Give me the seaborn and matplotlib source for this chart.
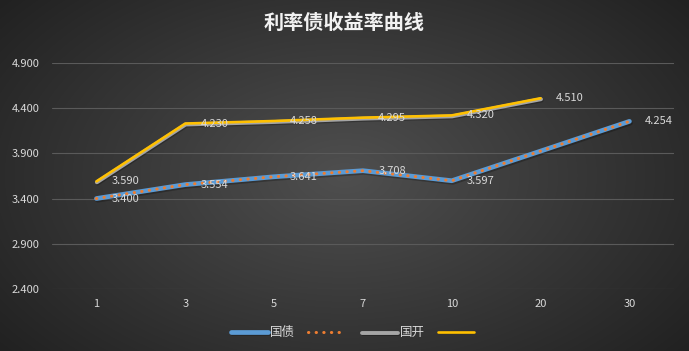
import numpy as np
import pandas as pd
import matplotlib
matplotlib.use("Agg")
import matplotlib.pyplot as plt
import matplotlib.patheffects as pe
import seaborn as sns

tenors = ["1", "3", "5", "7", "10", "20", "30"]
guozhai = [3.400, 3.554, 3.641, 3.708, 3.597, 3.925, 4.254]
guokai = [3.590, 4.230, 4.258, 4.295, 4.320, 4.510, np.nan]
guozhai_labels = ["3.400", "3.554", "3.641", "3.708", "3.597", "", "4.254"]
guokai_labels = ["3.590", "4.230", "4.258", "4.295", "4.320", "4.510", ""]
yticks = [2.4, 2.9, 3.4, 3.9, 4.4, 4.9]

df = pd.DataFrame({"tenor": tenors, "国债": guozhai, "国开": guokai})

sns.set_style("dark")
plt.rcParams["font.family"] = ["Noto Sans CJK SC", "DejaVu Sans"]

fig = plt.figure(figsize=(6.89, 3.51), dpi=100)

# radial gradient background
bg = fig.add_axes([0, 0, 1, 1], zorder=-1)
yy, xx = np.mgrid[0:351, 0:689]
r = np.sqrt(((xx - 344) / 420.0) ** 2 + ((yy - 175) / 260.0) ** 2)
shade = np.clip(0.31 - 0.17 * r, 0.13, 0.31)
bg.imshow(np.dstack([shade] * 3), aspect="auto", extent=[0, 1, 0, 1])
bg.axis("off")

ax = fig.add_axes([0.0755, 0.177, 0.9025, 0.6435])
ax.patch.set_alpha(0)

shadow = [pe.SimpleLineShadow(offset=(0.8, -1.2), shadow_color="black", alpha=0.25), pe.Normal()]

sns.lineplot(data=df, x="tenor", y="国债", ax=ax, color="#5b9bd5", lw=3.4,
             label="国债", path_effects=shadow, zorder=3)
sns.lineplot(data=df, x="tenor", y="国债", ax=ax, color="#ed7d31", lw=2.2,
             linestyle=(0, (0.1, 2.4)), dash_capstyle="round", label=" ", zorder=4)
sns.lineplot(data=df.dropna(), x="tenor", y="国开", ax=ax, color="#a5a5a5", lw=2.8,
             label="国开", path_effects=[pe.SimpleLineShadow(offset=(0.8, -1.6), shadow_color="black", alpha=0.25),
                                         pe.Stroke(offset=(0.3, -0.7))], zorder=3)
sns.lineplot(data=df.dropna(), x="tenor", y="国开", ax=ax, color="#ffc000", lw=1.9,
             label="  ", zorder=4)

for i, t in enumerate(tenors):
    if guozhai_labels[i]:
        ax.annotate(guozhai_labels[i], (i, guozhai[i]), xytext=(11, 0), textcoords="offset points",
                    va="center", ha="left", fontsize=8, color="#d9d9d9", zorder=5)
    if guokai_labels[i]:
        ax.annotate(guokai_labels[i], (i, guokai[i]), xytext=(11, 0), textcoords="offset points",
                    va="center", ha="left", fontsize=8, color="#d9d9d9", zorder=5)

ax.set_xlim(-0.5, 6.5)
ax.set_ylim(2.4, 4.9)
ax.set_yticks(yticks)
ax.set_yticklabels([f"{v:.3f}" for v in yticks])
ax.grid(axis="y", color="#5a5a5a", lw=0.8)
ax.grid(axis="x", visible=False)
for s in ax.spines.values():
    s.set_visible(False)
ax.tick_params(colors="#d9d9d9", labelsize=8, length=0)
ax.tick_params(axis="x", pad=7)
ax.tick_params(axis="y", pad=9)
ax.set_xlabel("")
ax.set_ylabel("")

fig.suptitle("利率债收益率曲线", x=0.5, y=0.965, fontsize=14.5, color="#f2f2f2",
             fontweight="bold")

leg = ax.legend(loc="upper center", bbox_to_anchor=(0.49, -0.115), ncol=4, frameon=False,
                fontsize=9, handlelength=2.9, columnspacing=1.0, handletextpad=0.2,
                labelcolor="#d9d9d9")

fig.savefig("out.png", dpi=100)
